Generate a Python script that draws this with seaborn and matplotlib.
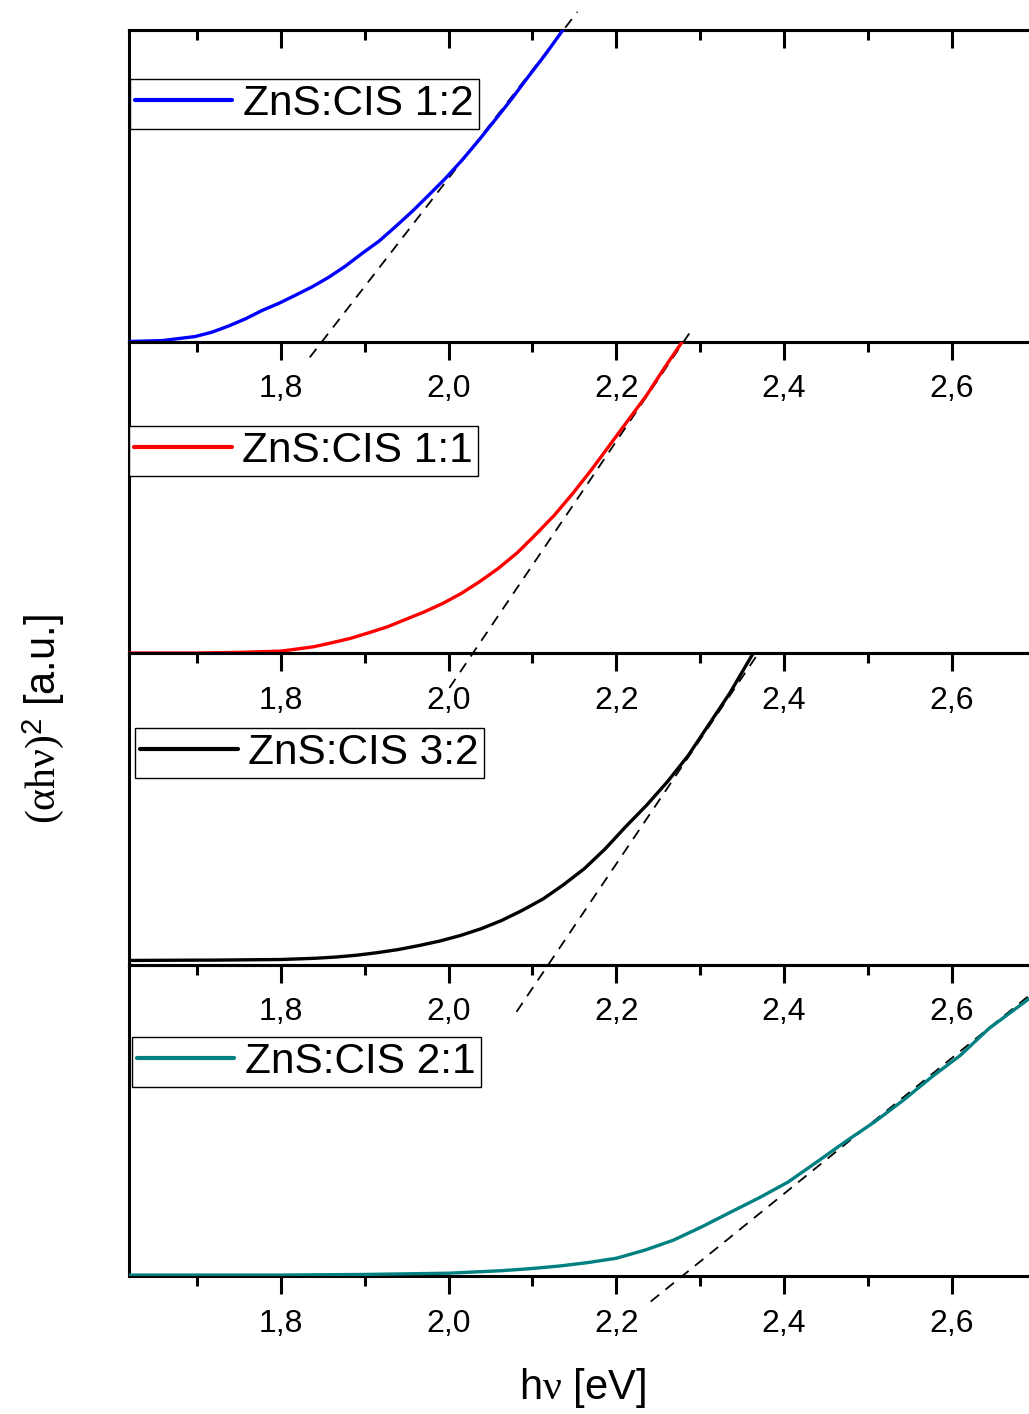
import numpy as np
import pandas as pd
import matplotlib
matplotlib.use("Agg")
import matplotlib.pyplot as plt
import seaborn as sns

sns.set_theme(style="white")
plt.rcParams['font.family'] = ['Liberation Sans', 'DejaVu Sans']
plt.rcParams['mathtext.fontset'] = 'custom'
plt.rcParams['mathtext.rm'] = 'Liberation Serif'
plt.rcParams['mathtext.it'] = 'Liberation Serif'
plt.rcParams['mathtext.sf'] = 'Liberation Sans'
plt.rcParams['text.color'] = 'black'

# ---------------- data ----------------
labels = ["ZnS:CIS 1:2", "ZnS:CIS 1:1", "ZnS:CIS 3:2", "ZnS:CIS 2:1"]
colors = ["#0000FF", "#FF0000", "#000000", "#008080"]

E_12 = [1.619, 1.659, 1.698, 1.718, 1.738, 1.758, 1.778, 1.798, 1.817, 1.837, 1.857, 1.877, 1.897,
        1.917, 1.936, 1.956, 1.976, 1.996, 2.016, 2.036, 2.055, 2.075, 2.095, 2.115, 2.135, 2.16]
A_12 = [0.0, 0.003, 0.016, 0.03, 0.05, 0.073, 0.10, 0.123, 0.148, 0.175, 0.206, 0.242, 0.283,
        0.322, 0.367, 0.416, 0.469, 0.523, 0.582, 0.646, 0.71, 0.778, 0.85, 0.92, 0.995, 1.08]

E_11 = [1.619, 1.70, 1.75, 1.80, 1.817, 1.839, 1.861, 1.883, 1.905, 1.927, 1.949, 1.971, 1.993, 2.015,
        2.037, 2.059, 2.082, 2.103, 2.126, 2.148, 2.170, 2.192, 2.214, 2.236, 2.258, 2.277, 2.30]
A_11 = [0.0, 0.0, 0.002, 0.006, 0.012, 0.02, 0.033, 0.047, 0.065, 0.084, 0.108, 0.132, 0.159, 0.191,
        0.229, 0.271, 0.322, 0.378, 0.442, 0.512, 0.587, 0.667, 0.747, 0.827, 0.918, 0.993, 1.08]

E_32 = [1.619, 1.70, 1.718, 1.80, 1.841, 1.866, 1.891, 1.915, 1.940, 1.965, 1.989, 2.014, 2.039, 2.063,
        2.088, 2.113, 2.137, 2.162, 2.187, 2.211, 2.236, 2.261, 2.286, 2.310, 2.335, 2.362, 2.38]
A_32 = [0.013, 0.014, 0.014, 0.016, 0.02, 0.024, 0.03, 0.038, 0.048, 0.061, 0.075, 0.093, 0.115, 0.141,
        0.174, 0.211, 0.256, 0.308, 0.372, 0.442, 0.511, 0.587, 0.672, 0.769, 0.870, 0.994, 1.07]

E_21 = [1.619, 1.80, 1.90, 2.0, 2.063, 2.097, 2.132, 2.166, 2.2, 2.234, 2.268, 2.302, 2.337, 2.371,
        2.405, 2.439, 2.473, 2.508, 2.542, 2.576, 2.610, 2.644, 2.692]
A_21 = [0.003, 0.003, 0.005, 0.009, 0.017, 0.0235, 0.032, 0.043, 0.057, 0.083, 0.115, 0.158, 0.206, 0.252,
        0.302, 0.366, 0.431, 0.495, 0.564, 0.639, 0.708, 0.794, 0.89]

# linear (Tauc) fits: end points of the dashed lines
fit_x = [[1.8345, 2.1536], [2.001, 2.287], [2.081, 2.367], [2.241, 2.692]]
fit_y = [[-0.051, 1.058], [-0.112, 1.026], [-0.152, 0.99], [-0.082, 0.90]]

xticks_major = [1.8, 2.0, 2.2, 2.4, 2.6]
xticks_minor = [1.7, 1.9, 2.1, 2.3, 2.5]
xtick_labels = ["1,8", "2,0", "2,2", "2,4", "2,6"]

energies = [E_12, E_11, E_32, E_21]
absorb = [A_12, A_11, A_32, A_21]

# ---------------- layout ----------------
W, H = 1029, 1414
fig = plt.figure(figsize=(W / 100, H / 100), dpi=100)
fig.patch.set_facecolor("white")

left_px, right_px = 129, 1029
panel_tops = [30, 341.5, 653, 964.5]
ph = 311.5
legend_anchor = [(0.001, 0.843), (0.0, 0.729), (0.0067, 0.759), (0.0033, 0.767)]

spine_lw = 2.2
for i in range(4):
    top = panel_tops[i]
    ax = fig.add_axes([left_px / W, 1 - (top + ph) / H, (right_px - left_px) / W, ph / H])
    ax.patch.set_visible(False)
    df = pd.DataFrame({"E": energies[i], "A": absorb[i]})
    ax.plot(fit_x[i], fit_y[i], color="black", linewidth=1.3, linestyle=(0, (6, 4.5)),
            clip_on=False, zorder=2)
    sns.lineplot(data=df, x="E", y="A", ax=ax, color=colors[i], linewidth=2.4,
                 label=labels[i], zorder=3, sort=True)
    ax.set_xlim(1.619, 2.692)
    ax.set_ylim(0, 1)
    ax.set_xlabel("")
    ax.set_ylabel("")
    ax.set_yticks([])
    ax.set_xticks(xticks_major)
    ax.set_xticklabels(xtick_labels)
    ax.set_xticks(xticks_minor, minor=True)
    ax.tick_params(axis="x", which="major", direction="out", length=13, width=spine_lw,
                   labelsize=23, pad=10.5, color="black", labelcolor="black", bottom=True)
    ax.tick_params(axis="x", which="minor", direction="out", length=7, width=spine_lw,
                   color="black", bottom=True)
    for s in ["left", "top", "bottom"]:
        ax.spines[s].set_visible(True)
        ax.spines[s].set_color("black")
        ax.spines[s].set_linewidth(spine_lw)
    ax.spines["right"].set_visible(False)

    if i == 0:
        sec = ax.secondary_xaxis("top")
        sec.set_xticks(xticks_major)
        sec.set_xticklabels([])
        sec.set_xticks(xticks_minor, minor=True)
        sec.tick_params(axis="x", which="major", direction="in", length=13, width=spine_lw, color="black")
        sec.tick_params(axis="x", which="minor", direction="in", length=7, width=spine_lw, color="black")
        sec.spines["top"].set_linewidth(spine_lw)
        sec.spines["top"].set_color("black")

    leg = ax.legend(loc="upper left", bbox_to_anchor=legend_anchor[i], borderaxespad=0,
                    fontsize=30.5, handlelength=2.3, handletextpad=0.25, borderpad=0.12,
                    frameon=True, fancybox=False, framealpha=1, shadow=False)
    leg.get_frame().set_edgecolor("black")
    leg.get_frame().set_linewidth(1.0)
    for t in leg.get_texts():
        t.set_color("black")
    for ln in leg.get_lines():
        ln.set_linewidth(3.0)
    leg.set_zorder(5)

fig.text(0.566, 0.0184, r"h$\mathrm{\nu}$ [eV]", fontsize=30, ha="center", va="center", color="black")
fig.text(0.042, 0.4915, r"$\mathrm{(\alpha h\nu)}^{\mathsf{2}}$ [a.u.]", fontsize=30, rotation=90,
         ha="center", va="center", color="black")

fig.savefig("out.png", dpi=100, facecolor="white")
